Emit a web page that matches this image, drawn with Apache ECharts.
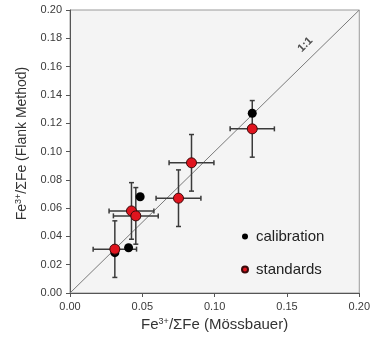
<!DOCTYPE html>
<html>
<head>
<meta charset="utf-8">
<script src="https://cdn.jsdelivr.net/npm/echarts@6/dist/echarts.min.js"></script>
<style>
  html, body { margin: 0; padding: 0; background: #fff; }
  #main { width: 373px; height: 340px; }
</style>
</head>
<body>
<div id="main"></div>
<script>
// values
const tickLabels = ['0.00', '0.02', '0.04', '0.06', '0.08', '0.10', '0.12', '0.14', '0.16', '0.18', '0.20'];
const calX = [0.031, 0.0405, 0.0485, 0.126];
const calY = [0.0285, 0.032, 0.068, 0.127];
const stdX = [0.031, 0.0425, 0.0455, 0.075, 0.084, 0.126];
const stdY = [0.031, 0.058, 0.0545, 0.067, 0.092, 0.116];
const stdXErr = [0.015, 0.0155, 0.0155, 0.0155, 0.0155, 0.0153];
const stdYErr = [0.02, 0.02, 0.02, 0.02, 0.02, 0.02];
const oneToOne = [[0, 0], [0.2, 0.2]];
const oneToOneLabelAt = [0.169, 0.169];

const font = '"Liberation Sans", Arial, sans-serif';

var chartDom = document.getElementById('main');
var myChart = echarts.init(chartDom);

const calData = calX.map((x, i) => [x, calY[i]]);
const stdData = stdX.map((x, i) => [x, stdY[i]]);
const errData = stdX.map((x, i) => [x, stdY[i], stdXErr[i], stdYErr[i]]);

const nameRich = {
  sup: { fontSize: 9, verticalAlign: 'top', padding: [0, 0, 7, 0], color: '#333', fontFamily: font },
};

var option = {
  animation: false,
  backgroundColor: '#fff',
  grid: {
    left: 70, right: 9, top: 10, bottom: 47,
    show: true,
    backgroundColor: '#f4f4f4',
    borderColor: '#9a9a9a',
    borderWidth: 1
  },
  legend: {
    orient: 'vertical',
    left: 236, top: 224,
    itemWidth: 6, itemHeight: 6,
    itemGap: 18,
    icon: 'circle',
    textStyle: { fontSize: 15, color: '#222', fontFamily: font, padding: [0, 0, 0, 3] },
    data: ['calibration', 'standards']
  },
  xAxis: {
    type: 'value',
    min: 0, max: 0.2, interval: 0.05,
    name: 'Fe{sup|3+}/ΣFe (Mössbauer)',
    nameLocation: 'middle',
    nameGap: 23,
    nameTextStyle: { fontSize: 15, color: '#333', fontFamily: font, rich: nameRich },
    splitLine: { show: false },
    axisLine: { lineStyle: { color: '#555', width: 1 } },
    axisTick: { length: 4, lineStyle: { color: '#555' } },
    axisLabel: { fontSize: 11, color: '#3a3a3a', fontFamily: font, margin: 8, formatter: v => v.toFixed(2) }
  },
  yAxis: {
    type: 'value',
    min: 0, max: 0.2, interval: 0.02,
    name: 'Fe{sup|3+}/ΣFe (Flank Method)',
    nameLocation: 'middle',
    nameGap: 40,
    nameTextStyle: { fontSize: 14, color: '#333', fontFamily: font, rich: nameRich, padding: [0, 0, 0, 16] },
    splitLine: { show: false },
    axisLine: { lineStyle: { color: '#555', width: 1 } },
    axisTick: { length: 4, lineStyle: { color: '#555' } },
    axisLabel: { fontSize: 11, color: '#3a3a3a', fontFamily: font, margin: 8,
      formatter: v => tickLabels[Math.round(v / 0.02)] }
  },
  series: [
    {
      name: '1:1',
      type: 'line',
      data: oneToOne,
      symbol: 'none',
      lineStyle: { color: '#7a7a7a', width: 1 },
      z: 1,
      silent: true
    },
    {
      name: '1:1 label',
      type: 'scatter',
      data: [oneToOneLabelAt],
      symbolSize: 0,
      z: 1,
      label: {
        show: true, position: 'inside', formatter: '1:1',
        rotate: 45, offset: [0, -13],
        fontSize: 11, fontWeight: 'bold', color: '#222', fontFamily: font
      }
    },
    {
      name: 'errors',
      type: 'custom',
      data: errData,
      z: 2,
      renderItem: function (params, api) {
        const x = api.value(0), y = api.value(1), ex = api.value(2), ey = api.value(3);
        const l = api.coord([x - ex, y]), r = api.coord([x + ex, y]);
        const t = api.coord([x, y + ey]), b = api.coord([x, y - ey]);
        const cap = 2.5;
        const style = { stroke: '#3a3a3a', lineWidth: 1.5 };
        const seg = (x1, y1, x2, y2) => ({ type: 'line', shape: { x1, y1, x2, y2 }, style });
        return {
          type: 'group',
          children: [
            seg(l[0], l[1], r[0], r[1]),
            seg(t[0], t[1], b[0], b[1]),
            seg(l[0], l[1] - cap, l[0], l[1] + cap),
            seg(r[0], r[1] - cap, r[0], r[1] + cap),
            seg(t[0] - cap, t[1], t[0] + cap, t[1]),
            seg(b[0] - cap, b[1], b[0] + cap, b[1])
          ]
        };
      }
    },
    {
      name: 'calibration',
      type: 'scatter',
      data: calData,
      symbolSize: 9,
      z: 3,
      itemStyle: { color: '#000', opacity: 1 }
    },
    {
      name: 'standards',
      type: 'scatter',
      data: stdData,
      symbolSize: 10,
      z: 4,
      itemStyle: { color: '#e0141e', borderColor: '#3a0a0a', borderWidth: 1, opacity: 1 }
    }
  ]
};

option && myChart.setOption(option);
</script>
</body>
</html>
